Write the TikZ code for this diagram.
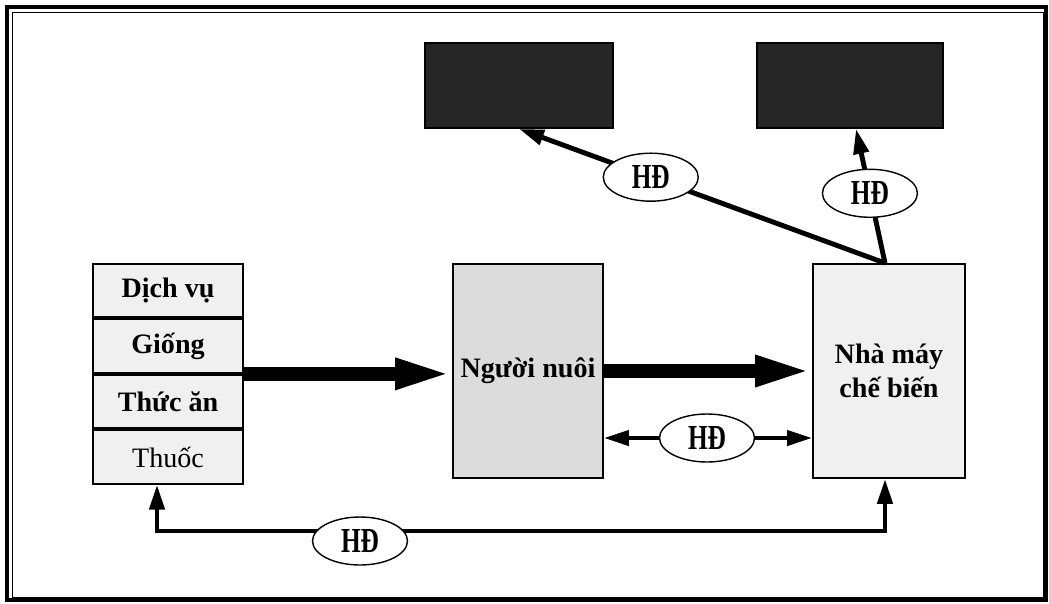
\documentclass[tikz,border=0pt]{standalone}
\usepackage{fontspec}
\usepackage{graphicx}
\setmainfont{Liberation Serif}
\usetikzlibrary{arrows.meta, positioning, shapes.geometric}
\definecolor{lightfill}{HTML}{F0F0F0}
\definecolor{midfill}{HTML}{DCDCDC}
\definecolor{darkfill}{HTML}{262626}
\tikzset{hdtip/.tip={Triangle[length=0.5cm, width=0.3cm]}}
\newcommand{\hdlabel}{\scalebox{0.72}[1]{HĐ}}

\begin{document}
\begin{tikzpicture}[x=0.02cm, y=-0.02cm,
  every node/.style={font=\fontsize{16}{19}\selectfont\bfseries},
  cell/.style={rectangle, draw, line width=1.1pt, fill=lightfill, minimum width=3cm, minimum height=1.07cm, inner sep=0pt, anchor=north},
  block/.style={rectangle, draw, line width=1.1pt, minimum width=3cm, minimum height=4.28cm, align=center, inner sep=0pt},
  darkbox/.style={rectangle, draw, line width=1pt, fill=darkfill, minimum height=1.7cm},
  hd/.style={ellipse, draw, line width=0.8pt, fill=white, minimum width=1.9cm, minimum height=0.96cm, inner sep=0pt, font=\fontsize{20}{22}\selectfont\bfseries},
  bigarrow/.style={line width=0.27cm, -{Triangle[length=1.14cm, width=0.56cm]}},
  thinarrow/.style={line width=2.4pt, -hdtip},
]
\useasboundingbox (0,0) rectangle (1049,603);
% frame
\draw[line width=2pt] (7,7) rectangle (1046,600);
\draw[line width=0.5pt] (12,12) rectangle (1043,597);

% inputs
\node[cell] (dv) at (168,263) {Dịch vụ};
\node[cell, below=0pt of dv] (giong) {Giống};
\node[cell, below=0pt of giong] (thucan) {Thức ăn};
\node[cell, below=0pt of thucan, font=\fontsize{16}{19}\selectfont] (thuoc) {Thuốc};

\node[block, fill=midfill] (nguoi) at (528,371) {Người nuôi};
\node[block, fill=lightfill, minimum width=3.04cm] (nhamay) at (889,371) {Nhà máy\\chế biến};

\node[darkbox, minimum width=3.76cm] (topl) at (519,85.5) {};
\node[darkbox, minimum width=3.72cm] (topr) at (850,85.5) {};

% main flow
\draw[bigarrow] (giong.south east) -- (giong.south east -| nguoi.west);
\draw[bigarrow] (nguoi.east) -- (nhamay.west);

\node[hd] (hdmid) at (707,438) {\hdlabel};
\draw[thinarrow] (hdmid.west) -- (hdmid.west -| nguoi.east);
\draw[thinarrow] (hdmid.east) -- (hdmid.east -| nhamay.west);

% bottom contract
\coordinate (cl) at (157,531);
\coordinate (cr) at (885,531);
\draw[line width=2.6pt, hdtip-hdtip] (cl |- thuoc.south) -- (cl) -- (cr) -- (cr |- nhamay.south);
\node[hd] (hdlow) at (360,541) {\hdlabel};

% upstream contracts
\coordinate (src) at ([xshift=-0.08cm]nhamay.north);
\draw[thinarrow, line width=2.8pt] (src) -- (topl.south) node[hd, pos=0.64] (hdleft) {\hdlabel};
\draw[thinarrow, line width=2.8pt] (src) -- ([xshift=0.12cm]topr.south) node[hd, pos=0.52] (hdright) {\hdlabel};
\end{tikzpicture}
\end{document}
